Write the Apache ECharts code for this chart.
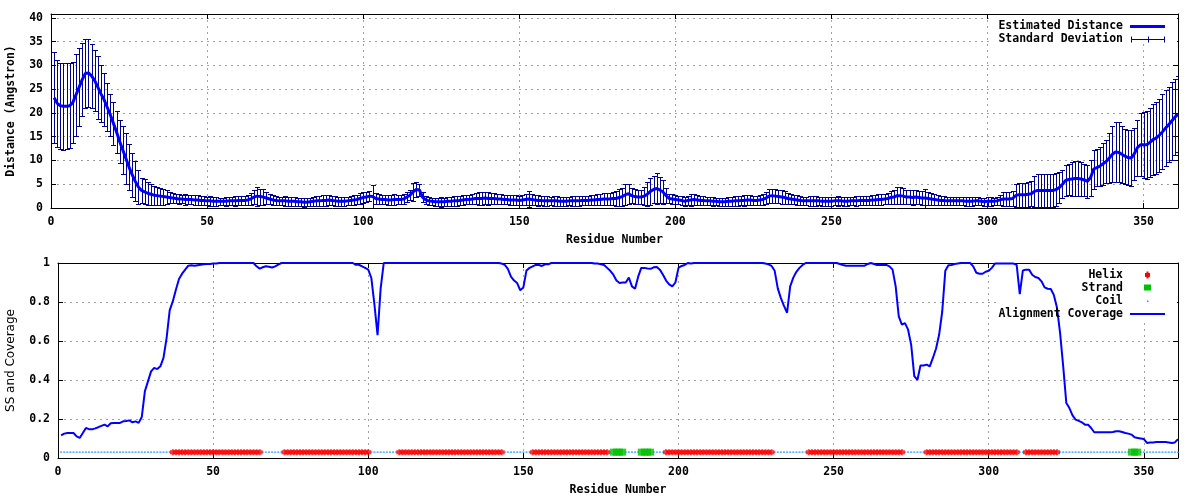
<!DOCTYPE html>
<html>
<head>
<meta charset="utf-8">
<script src="https://cdn.jsdelivr.net/npm/echarts@6/dist/echarts.min.js"></script>
<style>html,body{margin:0;padding:0;background:#fff}#c{width:1200px;height:500px}</style>
</head>
<body>
<div id="c"></div>
<script>
// ---------- DATA (residues 1..361) ----------
const X_MIN = 0, X_MAX = 361, X_STEP = 50;
const Y1_MIN = 0, Y1_MAX = 40.8, Y1_STEP = 5;
const Y2_MIN = 0, Y2_MAX = 1, Y2_STEP = 0.2;
const SS_LEVEL = 0.03;

// Estimated distance (Angstrom), per residue
const distance = [
/*1*/   23.2,22.0,21.5,21.4,21.4,21.5,22.2,23.8,25.4,27.0,
/*11*/  28.3,28.4,27.8,26.8,25.4,24.0,22.8,21.2,19.6,17.8,
/*21*/  16.0,14.0,12.2,10.4,8.6,7.0,5.6,4.4,3.7,3.4,
/*31*/  3.1,2.9,2.7,2.6,2.5,2.4,2.3,2.2,2.1,2.0,
/*41*/  1.9,1.9,1.8,1.8,1.8,1.7,1.7,1.6,1.6,1.5,
/*51*/  1.5,1.4,1.4,1.4,1.4,1.4,1.5,1.5,1.5,1.6,
/*61*/  1.6,1.6,1.7,1.9,2.3,2.5,2.4,2.3,2.1,1.9,
/*71*/  1.7,1.6,1.5,1.5,1.5,1.4,1.4,1.4,1.3,1.3,
/*81*/  1.2,1.2,1.3,1.4,1.5,1.5,1.6,1.6,1.7,1.6,
/*91*/  1.5,1.4,1.4,1.4,1.5,1.6,1.7,1.8,2.0,2.2,
/*101*/ 2.3,2.5,2.4,2.0,1.9,1.8,1.8,1.7,1.7,1.8,
/*111*/ 1.8,1.8,1.9,2.3,2.7,3.4,3.9,3.8,2.3,1.7,
/*121*/ 1.5,1.4,1.3,1.3,1.3,1.3,1.4,1.4,1.5,1.5,
/*131*/ 1.6,1.7,1.8,1.8,1.9,2.0,2.0,2.0,2.1,2.0,
/*141*/ 2.0,2.0,1.9,1.9,1.8,1.8,1.7,1.7,1.7,1.6,
/*151*/ 1.7,1.8,1.9,1.8,1.7,1.6,1.6,1.5,1.5,1.5,
/*161*/ 1.5,1.5,1.4,1.4,1.4,1.5,1.5,1.5,1.5,1.6,
/*171*/ 1.6,1.6,1.7,1.7,1.8,1.8,1.9,1.9,1.9,2.0,
/*181*/ 2.0,2.2,2.4,2.8,3.0,2.6,2.4,2.3,2.3,2.5,
/*191*/ 2.9,3.5,3.9,4.1,3.8,3.4,2.6,2.0,1.9,1.8,
/*201*/ 1.7,1.6,1.4,1.6,1.7,1.8,1.7,1.6,1.6,1.5,
/*211*/ 1.5,1.4,1.4,1.3,1.3,1.3,1.4,1.4,1.5,1.5,
/*221*/ 1.6,1.6,1.7,1.7,1.6,1.6,1.7,1.8,2.1,2.5,
/*231*/ 2.6,2.5,2.4,2.3,2.2,2.0,1.9,1.8,1.7,1.6,
/*241*/ 1.5,1.5,1.5,1.5,1.5,1.5,1.4,1.4,1.4,1.4,
/*251*/ 1.5,1.5,1.5,1.4,1.4,1.5,1.5,1.5,1.6,1.6,
/*261*/ 1.6,1.6,1.7,1.7,1.8,1.8,1.9,2.0,2.2,2.3,
/*271*/ 2.6,2.6,2.5,2.3,2.3,2.2,2.3,2.2,2.1,2.1,
/*281*/ 2.0,1.9,1.8,1.7,1.6,1.6,1.5,1.5,1.5,1.5,
/*291*/ 1.5,1.5,1.4,1.4,1.4,1.5,1.5,1.4,1.3,1.4,
/*301*/ 1.4,1.4,1.5,1.7,1.9,1.9,1.9,2.0,2.6,2.8,
/*311*/ 2.8,2.8,2.9,3.0,3.5,3.7,3.7,3.7,3.7,3.7,
/*321*/ 3.7,3.9,4.3,5.0,5.8,6.0,6.1,6.2,6.2,6.1,
/*331*/ 5.9,5.6,6.4,8.2,8.5,8.8,9.3,9.8,10.5,11.3,
/*341*/ 11.8,11.7,11.3,10.9,10.6,10.5,11.4,12.7,13.3,13.3,
/*351*/ 13.3,13.8,14.4,14.7,15.3,16.0,16.8,17.5,18.3,19.1,
/*361*/ 19.7
];

// Standard deviation (Angstrom), per residue
const stdDev = [
/*1*/   9.6,9.2,9.1,9.1,9.0,8.9,8.6,8.6,8.2,7.6,
/*11*/  7.3,7.1,6.7,6.4,6.6,6.0,5.5,5.0,4.4,4.5,
/*21*/  4.4,4.6,5.0,5.4,4.9,4.6,4.2,3.6,2.7,2.6,
/*31*/  2.4,2.2,2.0,1.9,1.8,1.7,1.5,1.2,1.0,1.0,
/*41*/  1.0,0.9,1.1,1.0,1.0,1.0,1.0,1.0,0.9,0.9,
/*51*/  1.0,0.9,0.9,0.8,0.8,0.9,0.9,0.9,1.0,0.9,
/*61*/  0.9,1.0,1.0,1.2,1.5,2.0,1.7,1.6,1.2,1.0,
/*71*/  1.0,0.9,0.9,0.9,1.0,1.0,0.9,0.9,0.9,0.9,
/*81*/  0.9,0.8,0.9,0.9,1.0,1.0,1.1,1.1,1.0,1.0,
/*91*/  1.0,0.9,0.9,0.9,0.9,1.0,1.0,1.0,1.1,1.1,
/*101*/ 1.0,1.0,2.5,1.2,1.1,1.0,1.0,1.1,1.0,1.1,
/*111*/ 1.0,0.9,1.0,1.0,1.1,1.9,1.5,1.2,1.1,0.9,
/*121*/ 0.8,0.8,0.8,0.9,1.0,0.9,0.9,1.0,1.0,1.0,
/*131*/ 1.0,1.1,1.0,1.0,1.1,1.2,1.3,1.3,1.3,1.3,
/*141*/ 1.2,1.2,1.1,1.1,1.0,1.0,1.0,1.1,1.0,1.0,
/*151*/ 1.0,1.2,1.6,1.1,1.1,1.1,1.0,1.0,1.0,0.9,
/*161*/ 1.0,1.0,1.0,0.9,0.9,0.9,1.0,1.0,1.0,1.0,
/*171*/ 0.9,1.0,1.0,1.1,1.1,1.2,1.3,1.2,1.3,1.4,
/*181*/ 1.6,1.8,1.9,2.2,2.1,1.6,1.6,1.4,1.5,1.9,
/*191*/ 2.5,2.8,2.8,3.3,2.8,2.5,1.6,1.0,1.0,1.0,
/*201*/ 0.9,1.0,0.9,1.0,1.2,1.1,1.0,1.0,1.0,0.9,
/*211*/ 0.9,0.9,0.8,0.8,0.8,0.9,0.9,0.9,1.0,1.0,
/*221*/ 1.0,1.1,1.1,1.0,1.0,1.0,1.0,1.1,1.3,1.5,
/*231*/ 1.5,1.5,1.4,1.4,1.3,1.2,1.1,1.0,1.0,1.0,
/*241*/ 0.9,0.9,1.0,1.0,1.0,0.9,0.9,0.9,0.9,0.9,
/*251*/ 0.9,1.0,0.9,0.9,0.9,0.9,0.9,1.0,1.0,0.9,
/*261*/ 1.0,1.0,1.0,1.1,1.1,1.1,1.1,1.2,1.4,1.5,
/*271*/ 1.8,1.8,1.7,1.5,1.4,1.5,1.5,1.4,1.4,2.0,
/*281*/ 1.3,1.2,1.1,1.0,0.9,0.9,0.9,0.9,0.9,0.9,
/*291*/ 0.9,0.9,0.9,0.9,0.9,0.9,0.9,0.8,0.8,0.9,
/*301*/ 0.9,0.8,0.9,1.1,1.4,1.5,1.4,1.5,2.4,2.5,
/*311*/ 2.5,2.5,2.6,2.6,3.3,3.5,3.5,3.5,3.5,3.5,
/*321*/ 3.5,3.4,3.3,3.0,3.3,3.3,3.5,3.6,3.6,3.6,
/*331*/ 3.4,3.5,3.8,4.1,3.9,4.1,4.4,4.6,5.2,5.9,
/*341*/ 6.3,6.3,6.0,5.8,5.8,5.9,5.5,5.9,6.6,6.9,
/*351*/ 7.1,7.2,7.5,7.6,7.7,7.9,8.0,7.9,8.1,8.0,
/*361*/ 8.0
];

// Alignment coverage, per residue
const coverage = [
/*1*/   0.116,0.125,0.128,0.128,0.128,0.111,0.103,0.128,0.154,0.148,
/*11*/  0.147,0.152,0.158,0.165,0.171,0.162,0.178,0.18,0.179,0.18,
/*21*/  0.188,0.19,0.193,0.183,0.188,0.18,0.21,0.342,0.393,0.444,
/*31*/  0.462,0.456,0.47,0.513,0.615,0.757,0.803,0.863,0.918,0.945,
/*41*/  0.966,0.986,0.988,0.986,0.989,0.991,0.993,0.995,0.995,0.997,
/*51*/  0.998,1,1,1,1,1,1,1,1,1,
/*61*/  1,1,1,0.983,0.971,0.978,0.983,0.981,0.977,0.983,
/*71*/  0.992,1,1,1,1,1,1,1,1,1,
/*81*/  1,1,1,1,1,1,1,1,1,1,
/*91*/  1,1,1,1,1,0.991,0.991,0.983,0.975,0.966,
/*101*/ 0.923,0.786,0.63,0.87,1,1,1,1,1,1,
/*111*/ 1,1,1,1,1,1,1,1,1,1,
/*121*/ 1,1,1,1,1,1,1,1,1,1,
/*131*/ 1,1,1,1,1,1,1,1,1,1,
/*141*/ 1,1,0.997,0.99,0.97,0.93,0.91,0.897,0.86,0.875,
/*151*/ 0.962,0.975,0.983,0.99,0.99,0.985,0.993,0.993,1,1,
/*161*/ 1,1,1,1,1,1,1,1,1,1,
/*171*/ 1,1,0.997,0.997,0.993,0.99,0.975,0.96,0.94,0.91,
/*181*/ 0.897,0.9,0.9,0.925,0.88,0.868,0.93,0.975,0.975,0.972,
/*191*/ 0.97,0.978,0.98,0.966,0.94,0.91,0.89,0.88,0.9,0.975,
/*201*/ 0.985,0.99,1,0.997,1,1,1,1,1,1,
/*211*/ 1,1,1,1,1,1,1,1,1,1,
/*221*/ 1,1,1,1,1,1,1,0.997,0.993,0.985,
/*231*/ 0.96,0.87,0.82,0.78,0.745,0.88,0.925,0.955,0.975,0.99,
/*241*/ 1,1,1,1,1,1,1,1,1,1,
/*251*/ 1,0.995,0.99,0.986,0.986,0.986,0.986,0.986,0.986,0.986,
/*261*/ 0.995,1,0.995,0.99,0.99,0.99,0.99,0.983,0.966,0.88,
/*271*/ 0.726,0.684,0.692,0.658,0.58,0.42,0.40,0.474,0.474,0.479,
/*281*/ 0.47,0.513,0.56,0.632,0.75,0.96,0.988,0.99,0.995,0.997,
/*291*/ 1,1,1,1,0.983,0.95,0.945,0.945,0.955,0.96,
/*301*/ 0.975,0.997,0.997,0.997,0.997,0.997,0.997,0.997,0.99,0.84,
/*311*/ 0.962,0.966,0.966,0.94,0.928,0.923,0.906,0.875,0.868,0.867,
/*321*/ 0.835,0.77,0.64,0.47,0.282,0.256,0.219,0.197,0.19,0.183,
/*331*/ 0.171,0.171,0.154,0.132,0.132,0.132,0.132,0.132,0.132,0.133,
/*341*/ 0.137,0.137,0.133,0.128,0.125,0.12,0.106,0.103,0.1,0.097,
/*351*/ 0.077,0.08,0.08,0.082,0.082,0.082,0.082,0.08,0.077,0.08,
/*361*/ 0.097
];

// Secondary structure segments (inclusive residue ranges); everything else is coil
const helixRanges  = [[37,65],[73,100],[110,143],[153,177],[196,230],[242,272],[280,309],[312,322]];
const strandRanges = [[179,182],[188,191],[346,348]];

// Labels
const legendTop = ['Estimated Distance', 'Standard Deviation'];
const legendBottom = ['Helix', 'Strand', 'Coil', 'Alignment Coverage'];
const axisNames = { x: 'Residue Number', y1: 'Distance (Angstron)', y2: 'SS and Coverage' };

// ---------- BUILD ----------
const residues = distance.map((_, i) => i + 1);
const distData = residues.map((r, i) => [r, distance[i]]);
const errData = residues.map((r, i) => [r, distance[i] - stdDev[i], distance[i] + stdDev[i]]);
const covData = residues.map((r, i) => [r, coverage[i]]);
const inRanges = (r, ranges) => ranges.some(([a, b]) => r >= a && r <= b);
const helixData = residues.filter(r => inRanges(r, helixRanges)).map(r => [r, SS_LEVEL]);
const strandData = residues.filter(r => inRanges(r, strandRanges)).map(r => [r, SS_LEVEL]);
const coilData = residues.filter(r => !inRanges(r, helixRanges) && !inRanges(r, strandRanges)).map(r => [r, SS_LEVEL]);

const MONO = "'DejaVu Sans Mono', 'Liberation Mono', monospace";
const mono = { fontFamily: MONO, fontWeight: 'bold', fontSize: 11.5, color: '#000' };
const GRIDC = '#a0a0a0';
const BLACK = { color: '#000', width: 1 };

function mainX(gi) {
  return {
    type: 'value', gridIndex: gi, min: X_MIN, max: X_MAX, interval: X_STEP, position: 'bottom',
    axisLine: { show: true, onZero: false, lineStyle: BLACK },
    axisTick: { show: true, inside: true, length: 5, lineStyle: BLACK },
    axisLabel: Object.assign({}, mono, { margin: 8, formatter: v => (v % X_STEP === 0 ? String(v) : '') }),
    splitLine: { show: true, showMinLine: false, showMaxLine: false, lineStyle: { color: GRIDC, type: [2, 4], width: 1 } },
    name: axisNames.x, nameLocation: 'middle', nameGap: 26, nameTextStyle: Object.assign({}, mono)
  };
}
function mirrorX(gi) {
  return {
    type: 'value', gridIndex: gi, min: X_MIN, max: X_MAX, interval: X_STEP, position: 'top',
    axisLine: { show: true, onZero: false, lineStyle: BLACK },
    axisTick: { show: true, inside: true, length: 5, lineStyle: BLACK },
    axisLabel: { show: false }, splitLine: { show: false }
  };
}
function mainY(gi, min, max, step, name, nameGap, nameStyle, fmt) {
  return {
    type: 'value', gridIndex: gi, min, max, interval: step, position: 'left',
    axisLine: { show: true, onZero: false, lineStyle: BLACK },
    axisTick: { show: true, inside: true, length: 5, lineStyle: BLACK },
    axisLabel: Object.assign({}, mono, { margin: 8, formatter: fmt }),
    splitLine: { show: true, showMinLine: false, showMaxLine: false, lineStyle: { color: GRIDC, type: [2, 4], width: 1 } },
    name, nameLocation: 'middle', nameGap, nameTextStyle: nameStyle
  };
}
function mirrorY(gi, min, max, step) {
  return {
    type: 'value', gridIndex: gi, min, max, interval: step, position: 'right',
    axisLine: { show: true, onZero: false, lineStyle: BLACK },
    axisTick: { show: true, inside: true, length: 5, lineStyle: BLACK },
    axisLabel: { show: false }, splitLine: { show: false }
  };
}

function renderErr(params, api) {
  const x = api.value(0), lo = api.value(1), hi = api.value(2);
  const pLo = api.coord([x, lo]), pHi = api.coord([x, hi]);
  const px = Math.round(pLo[0]) + 0.5;
  const yLo = Math.round(pLo[1]) + 0.5, yHi = Math.round(pHi[1]) + 0.5;
  const hw = 2.5;
  const style = { stroke: '#000090', lineWidth: 1, fill: null };
  return {
    type: 'group', children: [
      { type: 'line', shape: { x1: px, y1: yLo, x2: px, y2: yHi }, style },
      { type: 'line', shape: { x1: px - hw, y1: yLo, x2: px + hw, y2: yLo }, style },
      { type: 'line', shape: { x1: px - hw, y1: yHi, x2: px + hw, y2: yHi }, style }
    ]
  };
}

const legendFont = { fontFamily: MONO, fontWeight: 'bold', fontSize: 11.5, fill: '#000', align: 'right', verticalAlign: 'middle' };
const LX = 1123;
const graphics = [
  // key backgrounds (hide grid lines, like gnuplot's opaque key)
  { type: 'rect', shape: { x: 990, y: 15, width: 187, height: 27 }, style: { fill: '#fff' }, z: 1, silent: true },
  { type: 'rect', shape: { x: 996, y: 264, width: 181, height: 57 }, style: { fill: '#fff' }, z: 1, silent: true },
  // top key
  { type: 'text', x: LX, y: 26, style: Object.assign({ text: legendTop[0] }, legendFont), z: 10 },
  { type: 'line', shape: { x1: 1130, y1: 26.5, x2: 1165, y2: 26.5 }, style: { stroke: '#0000ff', lineWidth: 3 }, z: 10 },
  { type: 'text', x: LX, y: 39, style: Object.assign({ text: legendTop[1] }, legendFont), z: 10 },
  { type: 'line', shape: { x1: 1131.5, y1: 39.5, x2: 1164.5, y2: 39.5 }, style: { stroke: '#000090', lineWidth: 1 }, z: 10 },
  { type: 'line', shape: { x1: 1131.5, y1: 36.5, x2: 1131.5, y2: 42.5 }, style: { stroke: '#000090', lineWidth: 1 }, z: 10 },
  { type: 'line', shape: { x1: 1164.5, y1: 36.5, x2: 1164.5, y2: 42.5 }, style: { stroke: '#000090', lineWidth: 1 }, z: 10 },
  { type: 'line', shape: { x1: 1148.5, y1: 36.5, x2: 1148.5, y2: 42.5 }, style: { stroke: '#000090', lineWidth: 1 }, z: 10 },
  // bottom key
  { type: 'text', x: LX, y: 275, style: Object.assign({ text: legendBottom[0] }, legendFont), z: 10 },
  { type: 'rect', shape: { x: 1145, y: 273, width: 5, height: 4 }, style: { fill: '#ff0000' }, z: 10 },
  { type: 'rect', shape: { x: 1146.5, y: 271.5, width: 2, height: 7 }, style: { fill: '#ff0000' }, z: 10 },
  { type: 'text', x: LX, y: 288, style: Object.assign({ text: legendBottom[1] }, legendFont), z: 10 },
  { type: 'rect', shape: { x: 1144, y: 284.5, width: 7, height: 6 }, style: { fill: '#00c000' }, z: 10 },
  { type: 'text', x: LX, y: 301, style: Object.assign({ text: legendBottom[2] }, legendFont), z: 10 },
  { type: 'rect', shape: { x: 1147, y: 300.5, width: 1.5, height: 1.5 }, style: { fill: '#1e90ff' }, z: 10 },
  { type: 'text', x: LX, y: 314, style: Object.assign({ text: legendBottom[3] }, legendFont), z: 10 },
  { type: 'line', shape: { x1: 1130, y1: 314, x2: 1165, y2: 314 }, style: { stroke: '#0000ff', lineWidth: 2 }, z: 10 }
];

const chart = echarts.init(document.getElementById('c'), null, { renderer: 'canvas', width: 1200, height: 500 });
chart.setOption({
  animation: false,
  backgroundColor: '#fff',
  grid: [
    { left: 51, top: 14, width: 1127, height: 194, containLabel: false, outerBoundsMode: 'none' },
    { left: 58, top: 263, width: 1120, height: 195, containLabel: false, outerBoundsMode: 'none' }
  ],
  xAxis: [mainX(0), mirrorX(0), mainX(1), mirrorX(1)],
  yAxis: [
    mainY(0, Y1_MIN, Y1_MAX, Y1_STEP, axisNames.y1, 34, Object.assign({}, mono),
      v => (Math.abs(v % Y1_STEP) < 1e-9 ? String(v) : '')),
    mirrorY(0, Y1_MIN, Y1_MAX, Y1_STEP),
    mainY(1, Y2_MIN, Y2_MAX, Y2_STEP, axisNames.y2, 41,
      { fontFamily: "'DejaVu Sans', sans-serif", fontSize: 12, fontWeight: 'normal', color: '#000' },
      v => String(+v.toFixed(2))),
    mirrorY(1, Y2_MIN, Y2_MAX, Y2_STEP)
  ],
  graphic: { elements: graphics },
  series: [
    { type: 'custom', name: legendTop[1], xAxisIndex: 0, yAxisIndex: 0, data: errData,
      renderItem: renderErr, clip: true, z: 2, encode: { x: 0, y: [1, 2] }, silent: true },
    { type: 'line', name: legendTop[0], xAxisIndex: 0, yAxisIndex: 0, data: distData,
      symbol: 'none', showSymbol: false, clip: true, z: 3, silent: true,
      lineStyle: { color: '#0000ff', width: 3 }, itemStyle: { color: '#0000ff' } },
    { type: 'scatter', name: legendBottom[2], xAxisIndex: 2, yAxisIndex: 2, data: coilData,
      symbol: 'rect', symbolSize: [2, 1.5], itemStyle: { color: '#1e90ff' }, z: 2, silent: true },
    { type: 'scatter', name: legendBottom[0], xAxisIndex: 2, yAxisIndex: 2, data: helixData,
      symbol: 'path://M0,1h6v4h-6zM2,0h2v6h-2z', symbolSize: [6, 6], itemStyle: { color: '#ff0000' }, z: 3, silent: true },
    { type: 'scatter', name: legendBottom[1], xAxisIndex: 2, yAxisIndex: 2, data: strandData,
      symbol: 'rect', symbolSize: [7, 7], itemStyle: { color: '#00c000' }, z: 4, silent: true },
    { type: 'line', name: legendBottom[3], xAxisIndex: 2, yAxisIndex: 2, data: covData,
      symbol: 'none', showSymbol: false, clip: true, z: 5, silent: true,
      lineStyle: { color: '#0000ff', width: 2 }, itemStyle: { color: '#0000ff' } }
  ]
});
if (distance.length !== 361 || stdDev.length !== 361 || coverage.length !== 361) {
  console.error('length mismatch', distance.length, stdDev.length, coverage.length);
}
</script>
</body>
</html>
